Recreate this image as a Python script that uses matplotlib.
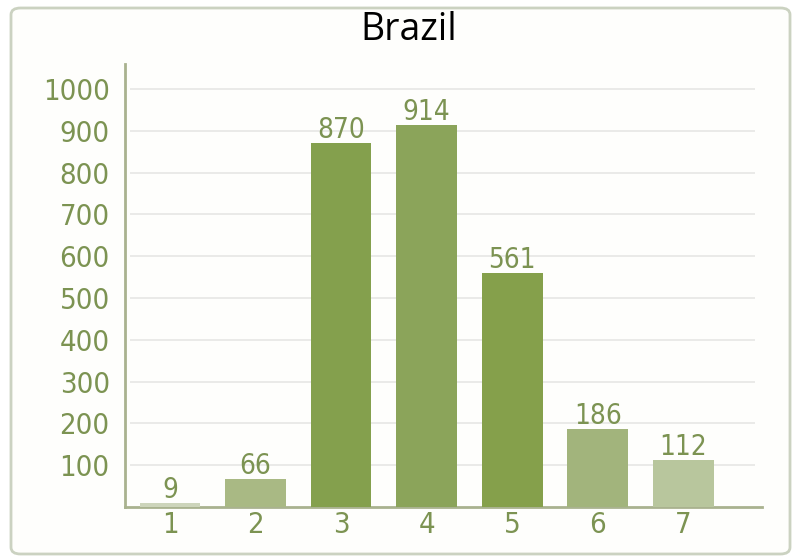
import matplotlib
matplotlib.use("Agg")
import matplotlib.pyplot as plt
from matplotlib.patches import FancyBboxPatch

# --------- data ---------- #
categories = [1, 2, 3, 4, 5, 6, 7]
counts = [9, 66, 870, 914, 561, 186, 112]
bar_colors = ['#cdd5bb', '#a9b984', '#84a04d', '#8ba45a', '#85a04b', '#a2b47c', '#b8c69d']
y_ticks = [100, 200, 300, 400, 500, 600, 700, 800, 900, 1000]
title = "Brazil"

green_txt = '#7c9352'
num_font = dict(family='DejaVu Sans', stretch='condensed')

fig = plt.figure(figsize=(7.96, 5.58), dpi=100)

# rounded frame round the whole chart (behind the axes)
frame = FancyBboxPatch((11/796, 4/558), 779/796, 546/558,
                       boxstyle="round,pad=0,rounding_size=0.012",
                       transform=fig.transFigure, facecolor='#fefefc',
                       edgecolor='#cbd2c1', linewidth=2, zorder=-5)
fig.patches.append(frame)

ax = fig.add_axes([125/796, 1 - 507/558, 637/796, 443/558])
ax.patch.set_alpha(0)

ax.bar(categories, counts, width=0.71, color=bar_colors, zorder=3)

# value labels sit on a baseline a few pixels above each bar
for x, v in zip(categories, counts):
    ax.annotate(str(v), (x, v), xytext=(0, 5), textcoords='offset pixels',
                ha='center', va='baseline', color=green_txt, fontsize=20, zorder=4, **num_font)

ax.set_xlim(0.474, 7.92)
ax.set_ylim(0, 1060)

# grid lines, a bit inset from the axes ends
ax.hlines(y_ticks, 0.53, 7.84, color='#e7e7e4', linewidth=1.2, zorder=1)

ax.set_yticks(y_ticks)
ax.set_yticklabels([str(t) for t in y_ticks], fontsize=21, color=green_txt, **num_font)
ax.set_xticks(categories)
ax.set_xticklabels([str(c) for c in categories], fontsize=21, color=green_txt, **num_font)
ax.tick_params(axis='y', length=0, pad=11)
ax.tick_params(axis='x', length=0, pad=3)

for s in ['top', 'right']:
    ax.spines[s].set_visible(False)
for s in ['left', 'bottom']:
    ax.spines[s].set_color('#a9b28f')
    ax.spines[s].set_linewidth(2)

fig.text(409/796, 1 - 30/558, title, ha='center', va='center',
         fontsize=27, family=['Open Sans', 'DejaVu Sans'], color='black')

fig.savefig("out.png", dpi=100)
